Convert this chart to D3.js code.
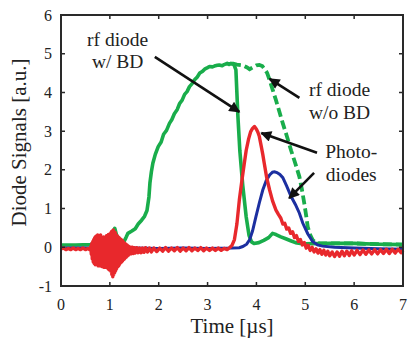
<!DOCTYPE html>
<html>
<head>
<meta charset="utf-8">
<script src="https://cdn.jsdelivr.net/npm/d3@7"></script>
<style>
  body { margin: 0; background: #fff; }
  svg { display: block; }
  svg text { font-family: "Liberation Serif", "DejaVu Serif", serif; }
</style>
</head>
<body>
<div id="body"></div>
<script>
// rf diode with breakdown (solid green)
var rfWithBD = [
  [0, 0.06], [0.3, 0.06], [0.6, 0.07], [0.7, 0.1], [0.8, 0.15], [0.9, 0.22], [0.98, 0.28],
  [1.05, 0.35], [1.1, 0.49], [1.14, 0.3], [1.2, 0.2], [1.27, 0.1], [1.33, 0.25], [1.37, 0.36],
  [1.45, 0.42], [1.52, 0.48], [1.58, 0.6], [1.65, 0.7], [1.71, 0.8], [1.76, 0.95], [1.8, 1.3],
  [1.82, 1.66], [1.85, 1.95], [1.88, 2.17], [1.93, 2.4], [1.99, 2.6], [2.05, 2.72], [2.1, 2.92],
  [2.16, 3.02], [2.22, 3.2], [2.27, 3.3], [2.32, 3.45], [2.38, 3.56], [2.43, 3.72], [2.48, 3.8],
  [2.53, 3.95], [2.58, 4.02], [2.63, 4.15], [2.68, 4.22], [2.73, 4.32], [2.79, 4.4], [2.84, 4.5],
  [2.9, 4.55], [2.94, 4.6], [3.0, 4.64], [3.04, 4.67], [3.1, 4.66], [3.14, 4.68], [3.2, 4.7],
  [3.24, 4.71], [3.3, 4.69], [3.34, 4.72], [3.4, 4.75], [3.44, 4.72], [3.48, 4.75], [3.54, 4.72],
  [3.58, 4.58], [3.62, 3.4], [3.66, 2.5], [3.72, 1.6], [3.79, 0.79], [3.85, 0.3], [3.9, 0.14],
  [3.95, 0.1], [4.05, 0.12], [4.15, 0.18], [4.25, 0.25], [4.33, 0.36], [4.4, 0.33], [4.5, 0.27],
  [4.6, 0.22], [4.7, 0.17], [4.8, 0.12], [4.9, 0.1], [5.0, 0.09], [5.5, 0.1], [6.0, 0.1],
  [6.5, 0.08], [7.0, 0.07]
];

// rf diode without breakdown (dashed green)
var rfWithoutBD = [
  [3.5, 4.75], [3.6, 4.72], [3.72, 4.7], [3.8, 4.65], [3.86, 4.6], [3.93, 4.65], [4.0, 4.7],
  [4.06, 4.71], [4.12, 4.68], [4.17, 4.6], [4.22, 4.5], [4.27, 4.32], [4.33, 4.08], [4.4, 3.8],
  [4.47, 3.5], [4.54, 3.2], [4.62, 2.88], [4.71, 2.5], [4.8, 2.15], [4.88, 1.82], [4.93, 1.5],
  [4.98, 1.13], [5.02, 0.8], [5.05, 0.53], [5.1, 0.32], [5.15, 0.19], [5.22, 0.12], [5.3, 0.1],
  [5.5, 0.1], [6.0, 0.1], [6.5, 0.08], [7.0, 0.07]
];

// photodiode 1 (red)
var photoRed = [
  [0, -0.04], [0.05, -0.02], [0.1, -0.06], [0.15, -0.03], [0.2, -0.06], [0.25, -0.02], [0.3, -0.06],
  [0.35, -0.03], [0.4, -0.06], [0.45, -0.02], [0.5, -0.06], [0.55, -0.03], [0.6, -0.07],
  [0.61, 0.02], [0.62, -0.18], [0.63, 0.1], [0.64, -0.3], [0.65, 0.15], [0.66, -0.38],
  [0.67, 0.2], [0.68, -0.42], [0.69, 0.25], [0.7, -0.45], [0.71, 0.28], [0.72, -0.4],
  [0.73, 0.3], [0.74, -0.45], [0.75, 0.32], [0.76, -0.48], [0.77, 0.3], [0.78, -0.42],
  [0.79, 0.28], [0.8, -0.48], [0.81, 0.32], [0.82, -0.44], [0.83, 0.25], [0.84, -0.5],
  [0.85, 0.22], [0.86, -0.45], [0.87, 0.27], [0.88, -0.52], [0.89, 0.24], [0.9, -0.48],
  [0.91, 0.27], [0.92, -0.52], [0.93, 0.3], [0.94, -0.5], [0.95, 0.28], [0.96, -0.55],
  [0.97, 0.33], [0.98, -0.58], [0.99, 0.32], [1.0, -0.56], [1.01, 0.36], [1.02, -0.62],
  [1.03, 0.4], [1.04, -0.7], [1.05, 0.42], [1.06, -0.76], [1.07, 0.45], [1.08, -0.7],
  [1.09, 0.4], [1.1, -0.65], [1.11, 0.38], [1.12, -0.6], [1.13, 0.32], [1.14, -0.55],
  [1.15, 0.3], [1.16, -0.5], [1.17, 0.27], [1.18, -0.48], [1.19, 0.25], [1.2, -0.44],
  [1.21, 0.22], [1.22, -0.4], [1.23, 0.2], [1.24, -0.38], [1.25, 0.18], [1.26, -0.35],
  [1.27, 0.15], [1.28, -0.32], [1.29, 0.12], [1.3, -0.3], [1.31, 0.1], [1.32, -0.27],
  [1.33, 0.08], [1.34, -0.25], [1.35, 0.06], [1.36, -0.22], [1.37, 0.04], [1.38, -0.2],
  [1.39, 0.02], [1.4, -0.18], [1.42, 0.0], [1.44, -0.17], [1.46, 0.0], [1.48, -0.16],
  [1.5, -0.01], [1.52, -0.15], [1.55, -0.01], [1.58, -0.14], [1.61, -0.02], [1.64, -0.14],
  [1.67, -0.02], [1.7, -0.13], [1.73, -0.01], [1.77, -0.12], [1.81, -0.02], [1.85, -0.12],
  [1.9, -0.02], [1.96, -0.11], [2.02, -0.02], [2.08, -0.1], [2.14, -0.01], [2.2, -0.1],
  [2.26, -0.02], [2.32, -0.09], [2.38, -0.01], [2.44, -0.1], [2.5, -0.02], [2.56, -0.09],
  [2.62, -0.01], [2.68, -0.09], [2.74, -0.02], [2.8, -0.08], [2.86, -0.01], [2.92, -0.09],
  [2.98, -0.02], [3.04, -0.08], [3.1, -0.02], [3.16, -0.08], [3.22, -0.02], [3.28, -0.08],
  [3.34, -0.03], [3.4, -0.06], [3.46, 0.0],
  [3.5, 0.05], [3.55, 0.2], [3.6, 0.6], [3.65, 1.22], [3.7, 1.7], [3.75, 2.15], [3.79, 2.5],
  [3.84, 2.8], [3.88, 2.98], [3.92, 3.07], [3.96, 3.12], [4.0, 3.05], [4.03, 2.97], [4.06, 2.86],
  [4.1, 2.6], [4.13, 2.4], [4.16, 2.17], [4.21, 1.8], [4.27, 1.48], [4.33, 1.2], [4.4, 0.96],
  [4.45, 0.85], [4.5, 0.75], [4.54, 0.6], [4.58, 0.62], [4.62, 0.47], [4.66, 0.5], [4.7, 0.36],
  [4.74, 0.4], [4.78, 0.25], [4.82, 0.3], [4.86, 0.15], [4.9, 0.2], [4.94, 0.06], [4.98, 0.12],
  [5.02, -0.02], [5.06, 0.05], [5.1, -0.08], [5.14, 0.0], [5.18, -0.12], [5.22, -0.04],
  [5.26, -0.15], [5.3, -0.06], [5.34, -0.18], [5.38, -0.08], [5.42, -0.2], [5.46, -0.1],
  [5.5, -0.22], [5.55, -0.12], [5.6, -0.24], [5.65, -0.12], [5.7, -0.23], [5.75, -0.1],
  [5.8, -0.22], [5.85, -0.1], [5.9, -0.21], [5.95, -0.09], [6.0, -0.2], [6.06, -0.08],
  [6.12, -0.19], [6.18, -0.07], [6.24, -0.18], [6.3, -0.07], [6.36, -0.17], [6.42, -0.06],
  [6.48, -0.17], [6.54, -0.06], [6.6, -0.16], [6.66, -0.05], [6.72, -0.16], [6.78, -0.05],
  [6.84, -0.15], [6.9, -0.05], [6.96, -0.14], [7.0, -0.08]
];

// photodiode 2 (blue)
var photoBlue = [
  [0, -0.02], [0.5, -0.02], [1.0, -0.03], [1.5, -0.02], [2.0, -0.03], [2.5, -0.02], [3.0, -0.03],
  [3.5, -0.02], [3.65, -0.01], [3.72, 0.02], [3.8, 0.08], [3.86, 0.19], [3.92, 0.42], [3.99, 0.79],
  [4.06, 1.15], [4.13, 1.48], [4.2, 1.72], [4.27, 1.87], [4.33, 1.94], [4.37, 1.95], [4.42, 1.93],
  [4.48, 1.88], [4.54, 1.8], [4.62, 1.58], [4.71, 1.31], [4.8, 1.1], [4.88, 0.88], [4.95, 0.62],
  [5.05, 0.35], [5.15, 0.15], [5.25, 0.06], [5.35, 0.03], [5.6, 0.0], [6.0, -0.02], [6.5, -0.04],
  [7.0, -0.05]
];

var xTicks = [0, 1, 2, 3, 4, 5, 6, 7];
var yTicks = [-1, 0, 1, 2, 3, 4, 5, 6];

// annotation labels and arrows [tail, tip] in data units
var labels = [
  { lines: ["rf diode", "w/ BD"], t: 1.16, v: [5.2, 4.62] },
  { lines: ["rf diode", "w/o BD"], t: 5.7, v: [3.9, 3.32] },
  { lines: ["Photo-", "diodes"], t: 5.94, v: [2.3, 1.72] }
];
var arrows = [
  [[1.92, 4.92], [3.65, 3.5]],
  [[4.88, 3.86], [4.27, 4.35]],
  [[5.24, 2.44], [4.1, 2.95]],
  [[5.18, 1.92], [4.67, 1.27]]
];

var margin = { top: 15, right: 6, bottom: 53, left: 61 };
var width = 409 - margin.left - margin.right;
var height = 339 - margin.top - margin.bottom;

var svg = d3.select("#body")
  .append("svg")
  .attr("width", 409)
  .attr("height", 339);

var g = svg.append("g")
  .attr("transform", "translate(" + margin.left + "," + margin.top + ")");

var x = d3.scaleLinear().domain([0, 7]).range([0, width]);
var y = d3.scaleLinear().domain([-1, 6]).range([height, 0]);

var line = d3.line()
  .x(function(d) { return x(d[0]); })
  .y(function(d) { return y(d[1]); });

g.append("path")
  .datum(rfWithoutBD)
  .attr("fill", "none")
  .attr("stroke", "#19ad4b")
  .attr("stroke-width", 3.8)
  .attr("stroke-dasharray", "9,4")
  .attr("d", line);

g.append("path")
  .datum(rfWithBD)
  .attr("fill", "none")
  .attr("stroke", "#19ad4b")
  .attr("stroke-width", 3.6)
  .attr("stroke-linejoin", "round")
  .attr("d", line);

g.append("path")
  .datum(photoBlue)
  .attr("fill", "none")
  .attr("stroke", "#1c2fa0")
  .attr("stroke-width", 3)
  .attr("d", line);

g.append("path")
  .datum(photoRed)
  .attr("fill", "none")
  .attr("stroke", "#e8282c")
  .attr("stroke-width", 3.4)
  .attr("stroke-linejoin", "round")
  .attr("d", line);

// frame with inward ticks on all sides
var axisColor = "#2a2a2a";
g.append("rect")
  .attr("width", width)
  .attr("height", height)
  .attr("fill", "none")
  .attr("stroke", axisColor)
  .attr("stroke-width", 2);

g.selectAll(".xt")
  .data(xTicks.slice(1, -1))
  .enter().append("path")
  .attr("stroke", axisColor)
  .attr("stroke-width", 1.5)
  .attr("d", function(d) {
    return "M" + x(d) + "," + height + "v-4M" + x(d) + ",0v4";
  });

g.selectAll(".yt")
  .data(yTicks.slice(1, -1))
  .enter().append("path")
  .attr("stroke", axisColor)
  .attr("stroke-width", 1.5)
  .attr("d", function(d) {
    return "M0," + y(d) + "h4M" + width + "," + y(d) + "h-4";
  });

g.selectAll(".xl")
  .data(xTicks)
  .enter().append("text")
  .attr("x", x)
  .attr("y", height + 24)
  .attr("text-anchor", "middle")
  .attr("font-size", 16)
  .attr("fill", "#222")
  .text(function(d) { return d; });

g.selectAll(".yl")
  .data(yTicks)
  .enter().append("text")
  .attr("x", -9)
  .attr("y", y)
  .attr("dy", "0.35em")
  .attr("text-anchor", "end")
  .attr("font-size", 16)
  .attr("fill", "#222")
  .text(function(d) { return d; });

g.append("text")
  .attr("x", width / 2)
  .attr("y", height + 47)
  .attr("text-anchor", "middle")
  .attr("font-size", 21)
  .attr("fill", "#222")
  .text("Time [\u00b5s]");

g.append("text")
  .attr("transform", "translate(-35," + (height / 2 - 8) + ") rotate(-90)")
  .attr("text-anchor", "middle")
  .attr("font-size", 21)
  .attr("fill", "#222")
  .text("Diode Signals [a.u.]");

// annotations
svg.append("defs").append("marker")
  .attr("id", "head")
  .attr("viewBox", "0 0 10 10")
  .attr("refX", 9)
  .attr("refY", 5)
  .attr("markerWidth", 5)
  .attr("markerHeight", 4.2)
  .attr("markerUnits", "strokeWidth")
  .attr("orient", "auto")
  .append("path")
  .attr("d", "M0,0L10,5L0,10z")
  .attr("fill", "#111");

g.selectAll(".arrow")
  .data(arrows)
  .enter().append("line")
  .attr("x1", function(d) { return x(d[0][0]); })
  .attr("y1", function(d) { return y(d[0][1]); })
  .attr("x2", function(d) { return x(d[1][0]); })
  .attr("y2", function(d) { return y(d[1][1]); })
  .attr("stroke", "#111")
  .attr("stroke-width", 2.6)
  .attr("marker-end", "url(#head)");

labels.forEach(function(l) {
  l.lines.forEach(function(s, i) {
    g.append("text")
      .attr("x", x(l.t))
      .attr("y", y(l.v[i]))
      .attr("text-anchor", "middle")
      .attr("font-size", 19.5)
      .attr("fill", "#222")
      .text(s);
  });
});
</script>
</body>
</html>
